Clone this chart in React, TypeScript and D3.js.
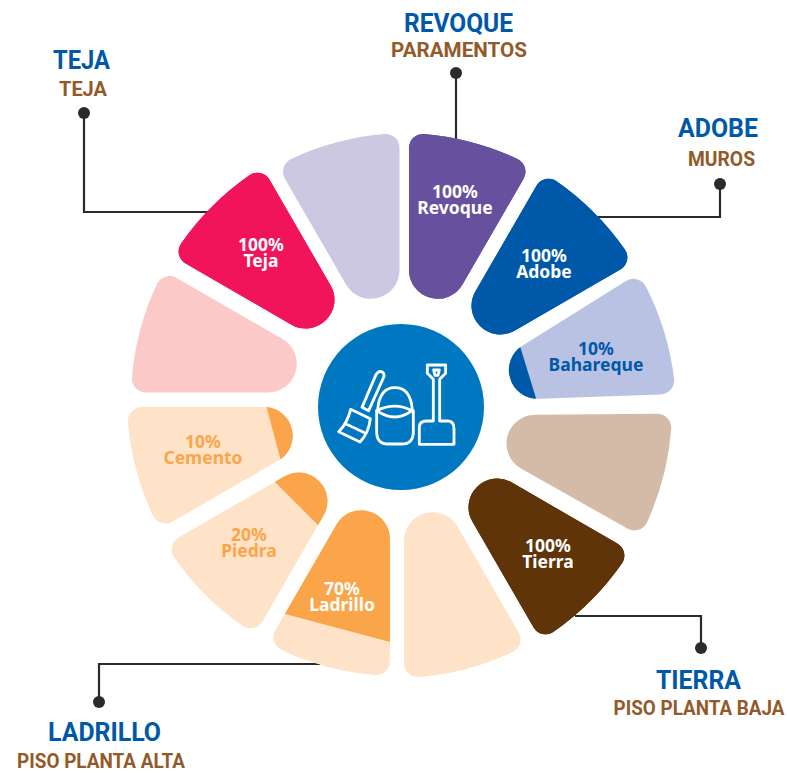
import React from "react";
import * as d3 from "d3";

const materials = ["Revoque", "Adobe", "Bahareque", "", "Tierra", "", "Ladrillo", "Piedra", "Cemento", "", "Teja", ""];
const shares = [100, 100, 10, 0, 100, 0, 70, 20, 10, 0, 100, 0];
const lightColors = ["#67519e", "#0059a8", "#b9c2e2", "#d4bba7", "#5f3409", "#fee3c8", "#fee3c8", "#fee3c8", "#fee3c8", "#fcc9c9", "#f2145a", "#ccc8e1"];
const darkColors = ["#67519e", "#0059a8", "#0059a8", "#d4bba7", "#5f3409", "#fee3c8", "#fba54b", "#fba54b", "#fba54b", "#fcc9c9", "#f2145a", "#ccc8e1"];
const labelColors = ["#fff", "#fff", "#0059a8", "", "#fff", "", "#fff", "#fba54b", "#fba54b", "", "#fff", ""];

const groupTitles = ["REVOQUE", "TEJA", "ADOBE", "TIERRA", "LADRILLO"];
const groupSubtitles = ["PARAMENTOS", "TEJA", "MUROS", "PISO PLANTA BAJA", "PISO PLANTA ALTA"];

const W = 787, H = 773, CX = 401, CY = 407;
const R_IN = 113, R_OUT = 274, GAP = 8, FILLET = 14;
const BLUE = "#0059a8", BROWN = "#935a29", LINE = "#2b2b2b";

// Hand placement of each exploded petal: [dx, dy, extra rotation]
const petalNudge: [number, number, number][] = [
  [0, 0, 0], [-1, -1, 0], [1, 4.5, -2], [-3, 1, -0.5], [-4, 0, 0], [-5, -3, 0],
  [-3, -5, 0], [-2, -6, 0], [0, -8, 0], [4, -6.5, 0], [5, -7, 0], [6.5, 0, 0],
];
const labelCenters: [number, number][] = [
  [455, 200], [544, 264], [596, 357], [0, 0], [548, 554], [0, 0],
  [342, 597], [249, 543], [203, 450], [0, 0], [261, 253], [0, 0],
];

const titleLayout = [
  { x: 458.5, y: 32, w: 109, sx: 459, sy: 57, sw: 136 },
  { x: 81.5, y: 69, w: 57, sx: 83, sy: 96, sw: 48 },
  { x: 718, y: 137, w: 80, sx: 721.5, sy: 166, sw: 67 },
  { x: 698.5, y: 689, w: 85, sx: 699, sy: 715, sw: 171 },
  { x: 104.5, y: 741, w: 113, sx: 101, sy: 768, sw: 168 },
];
const leaders: [number, number][][] = [
  [[456, 73], [456, 140]],
  [[84, 113], [84, 212], [210, 212]],
  [[720, 184], [720, 217], [598, 217]],
  [[701, 648], [701, 616], [575, 616]],
  [[99, 702], [99, 664], [320, 664]],
];

const half = (15 * Math.PI) / 180;
const s = Math.sin(half), c = Math.cos(half);
const apex = GAP / s;
const innerD = (R_IN - apex * s) / (1 - s);
const innerR = (innerD - apex) * s;

function petalPath(): string {
  // Local coordinates: u along the petal axis, v across it. Right half, then mirrored.
  const A = { u: apex + FILLET / s, v: 0 };
  const target = R_OUT - FILLET;
  const b = A.u * c;
  const t = -b + Math.sqrt(b * b - (A.u * A.u - target * target));
  const P = { u: A.u + t * c, v: t * s };
  const sideT = { u: P.u - FILLET * s, v: P.v + FILLET * c };
  const k = R_OUT / target;
  const outT = { u: P.u * k, v: P.v * k };
  const innT = { u: innerD - innerR * s, v: innerR * c };
  const pt = (o: { u: number; v: number }, side: number) => `${(side * o.v).toFixed(2)},${(-o.u).toFixed(2)}`;
  return [
    `M${pt(innT, -1)}`,
    `L${pt(sideT, -1)}`,
    `A${FILLET},${FILLET} 0 0 1 ${pt(outT, -1)}`,
    `A${R_OUT},${R_OUT} 0 0 1 ${pt(outT, 1)}`,
    `A${FILLET},${FILLET} 0 0 1 ${pt(sideT, 1)}`,
    `L${pt(innT, 1)}`,
    `A${innerR.toFixed(2)},${innerR.toFixed(2)} 0 0 1 ${pt(innT, -1)}`,
    "Z",
  ].join(" ");
}

const angle = d3.scaleLinear().domain([0, 12]).range([15, 375]);
const cut = d3.scaleLinear().domain([0, 10, 20, 70, 100]).range([R_IN, 132, 145, 234, R_OUT]);
const lineGen = d3.line();
const VALUE_FONT = "'Noto Sans', sans-serif";
const TITLE_FONT = "Roboto, sans-serif";

export default function App() {
  const d = petalPath();
  return (
    <svg width={W} height={H} viewBox={`0 0 ${W} ${H}`} style={{ position: "absolute", left: 0, top: 0, background: "#fff" }}>
      <defs>
        <clipPath id="petal"><path d={d} /></clipPath>
      </defs>
      {leaders.map((pts, i) => (
        <g key={i}>
          <path d={lineGen(pts) ?? ""} fill="none" stroke={LINE} strokeWidth={2.2} />
          <circle cx={pts[0][0]} cy={pts[0][1]} r={6} fill={LINE} />
        </g>
      ))}
      {shares.map((v, i) => {
        const [dx, dy, da] = petalNudge[i];
        return (
          <g key={i} transform={`translate(${CX + dx},${CY + dy}) rotate(${angle(i) + da})`}>
            <path d={d} fill={lightColors[i]} />
            {v > 0 && (
              <g clipPath="url(#petal)">
                <rect x={-160} y={-cut(v)} width={320} height={cut(v)} fill={darkColors[i]} />
              </g>
            )}
          </g>
        );
      })}
      {shares.map((v, i) => {
        if (!materials[i]) return null;
        const [lx, ly] = labelCenters[i];
        return (
          <text key={i} textAnchor="middle" fontFamily={VALUE_FONT} fontWeight={700} fontSize={17.5} fill={labelColors[i]}>
            <tspan x={lx} y={ly - 2}>{v}%</tspan>
            <tspan x={lx} y={ly + 14}>{materials[i]}</tspan>
          </text>
        );
      })}
      <circle cx={CX} cy={CY} r={83} fill="#0078c1" />
      <g transform="translate(310,320) scale(0.3333)" fill="none" stroke="#fff" strokeWidth={8.5} strokeLinejoin="round" strokeLinecap="round">
        <path d="M203,158 Q213,150 221,160 Q224,166 220,174 L176,272 L156,262 L198,164 Z" />
        <path d="M122,268 L181,296 Q176,340 150,366 L86,335 Q112,310 122,268 Z" />
        <path d="M108,312 L163,338" strokeDasharray="3 5" />
        <path d="M203,270 Q208,203 255,203 Q302,203 307,270" />
        <path d="M200,272 Q255,310 306,272 Q255,245 200,272 Z" />
        <path d="M200,272 V335 Q200,372 235,372 H275 Q310,372 310,335 V272" />
        <path d="M352,135 H407 V160 L389,178 V303 H412 Q432,303 432,325 V373 H328 V322 Q328,303 350,303 H370 V178 L352,160 Z" />
        <path d="M371,150 H388 L384,166 H375 Z" />
      </g>
      {groupTitles.map((t, i) => {
        const l = titleLayout[i];
        return (
          <g key={t + i} textAnchor="middle" fontFamily={TITLE_FONT} fontWeight={700}>
            <text x={l.x} y={l.y} fontSize={25} fill={BLUE} textLength={l.w} lengthAdjust="spacingAndGlyphs">{t}</text>
            <text x={l.sx} y={l.sy} fontSize={19.5} fill={BROWN} textLength={l.sw} lengthAdjust="spacingAndGlyphs">{groupSubtitles[i]}</text>
          </g>
        );
      })}
    </svg>
  );
}
